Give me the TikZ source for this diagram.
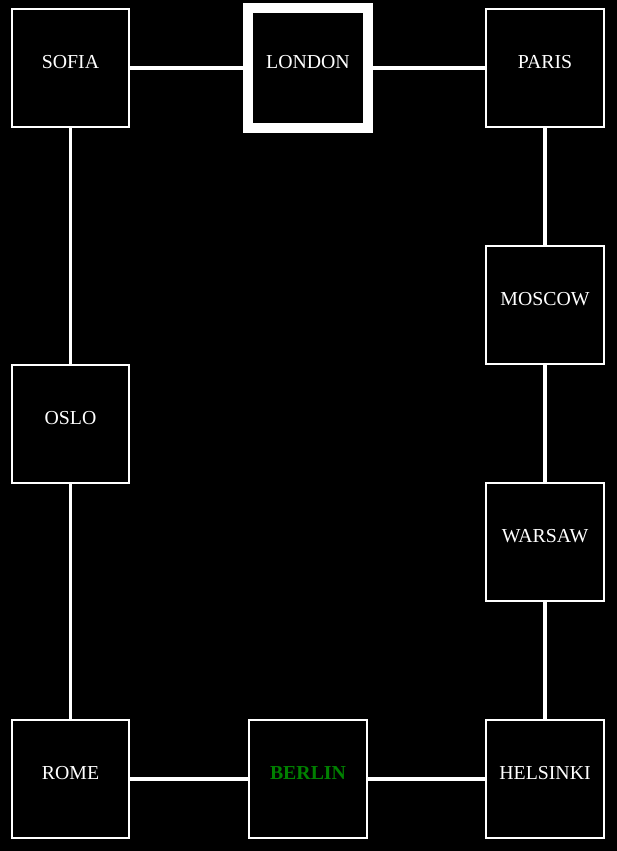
\documentclass[tikz,border=0pt]{standalone}
\usepackage{fontspec}
\setmainfont{Liberation Serif}
\definecolor{htmlgreen}{RGB}{0,128,0}
\begin{document}
\begin{tikzpicture}[x=1pt,y=-1pt,
  city/.style={draw=white, line width=1.6pt, fill=black, minimum size=117.5pt, inner sep=0pt},
  hub/.style={city, line width=10pt, minimum size=120pt},
  lbl/.style={text=white, font=\fontsize{19.8}{23}\selectfont, yshift=6pt, inner sep=0pt},
  conn/.style={draw=white, line width=3.2pt}]
\fill[black] (0,0) rectangle (617,851);
\useasboundingbox (0,0) rectangle (617,851);
\node[city, label={[lbl]center:SOFIA}] (sofia) at (70.5,68) {};
\node[hub, label={[lbl]center:LONDON}] (london) at (308,68) {};
\node[city, label={[lbl]center:PARIS}] (paris) at (545,68) {};
\node[city, label={[lbl]center:MOSCOW}] (moscow) at (545,305) {};
\node[city, label={[lbl]center:OSLO}] (oslo) at (70.5,424) {};
\node[city, label={[lbl]center:WARSAW}] (warsaw) at (545,542) {};
\node[city, label={[lbl]center:ROME}] (rome) at (70.5,779) {};
\node[city, label={[lbl,text=htmlgreen,font=\fontsize{19.8}{23}\selectfont\bfseries]center:BERLIN}] (berlin) at (308,779) {};
\node[city, label={[lbl]center:HELSINKI}] (helsinki) at (545,779) {};
\draw[conn] (sofia) -- (london);
\draw[conn] (london) -- (paris);
\draw[conn] (paris) -- (moscow);
\draw[conn] (moscow) -- (warsaw);
\draw[conn] (warsaw) -- (helsinki);
\draw[conn] (helsinki) -- (berlin);
\draw[conn] (berlin) -- (rome);
\draw[conn] (rome) -- (oslo);
\draw[conn] (oslo) -- (sofia);
\end{tikzpicture}
\end{document}
